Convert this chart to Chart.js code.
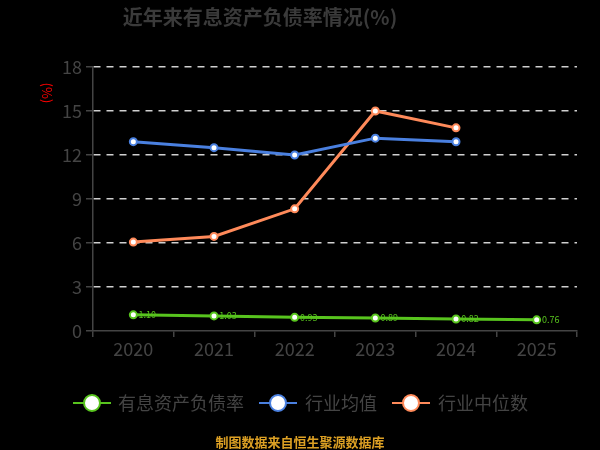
<!DOCTYPE html>
<html>
<head>
<meta charset="utf-8">
<script src="https://cdn.jsdelivr.net/npm/chart.js@4/dist/chart.umd.min.js"></script>
<style>
html,body{margin:0;padding:0;background:#000;}
#wrap{width:600px;height:450px;position:relative;}
</style>
</head>
<body>
<div id="wrap"><canvas id="c" width="600" height="450"></canvas></div>
<script>
const categories = ['2020','2021','2022','2023','2024','2025'];
const debtRatio = [1.10, 1.03, 0.93, 0.89, 0.82, 0.76];
const industryAvg = [12.91, 12.50, 12.00, 13.15, 12.90, null];
const industryMedian = [6.06, 6.45, 8.33, 15.00, 13.85, null];
const yTicks = [0, 3, 6, 9, 12, 15, 18];
const seriesNames = ['有息资产负债率', '行业均值', '行业中位数'];
const seriesColors = ['#58c41e', '#4a80e0', '#ff8a5a'];
const titleText = '近年来有息资产负债率情况(%)';
const unitText = '(%)';
const sourceText = '制图数据来自恒生聚源数据库';

const FONT = '"Noto Sans CJK SC", "Noto Sans", sans-serif';

const extras = {
  id: 'extras',
  beforeDatasetsDraw(chart) {
    const ctx = chart.ctx;
    const meta = chart.getDatasetMeta(0);
    ctx.save();
    ctx.font = '9px ' + FONT;
    ctx.fillStyle = seriesColors[0];
    ctx.textAlign = 'center';
    ctx.textBaseline = 'middle';
    meta.data.forEach((pt, i) => {
      ctx.fillText(debtRatio[i].toFixed(2), pt.x + 14, pt.y);
    });
    ctx.restore();
  },
  afterDraw(chart) {
    const ctx = chart.ctx;
    ctx.save();
    ctx.font = 'bold 20px ' + FONT;
    ctx.fillStyle = '#3a3a3a';
    ctx.textAlign = 'center';
    ctx.textBaseline = 'middle';
    ctx.fillText(titleText, 260, 17);
    ctx.save();
    ctx.translate(47, 93);
    ctx.rotate(Math.PI / 2);
    ctx.font = '13px ' + FONT;
    ctx.fillStyle = '#ff0000';
    ctx.fillText(unitText, 0, 0);
    ctx.restore();
    const items = [
      {x1: 73, x2: 111, cx: 92, tx: 118},
      {x1: 259, x2: 297, cx: 278, tx: 305},
      {x1: 392, x2: 430, cx: 411, tx: 438}
    ];
    const ly = 403;
    items.forEach((it, i) => {
      ctx.strokeStyle = seriesColors[i];
      ctx.lineWidth = 2;
      ctx.beginPath();
      ctx.moveTo(it.x1, ly);
      ctx.lineTo(it.x2, ly);
      ctx.stroke();
      ctx.beginPath();
      ctx.arc(it.cx, ly, 8, 0, Math.PI * 2);
      ctx.fillStyle = '#ffffff';
      ctx.fill();
      ctx.lineWidth = 2;
      ctx.stroke();
      ctx.font = '18px ' + FONT;
      ctx.fillStyle = '#444444';
      ctx.textAlign = 'left';
      ctx.fillText(seriesNames[i], it.tx, ly);
    });
    ctx.font = 'bold 13px ' + FONT;
    ctx.fillStyle = '#dca024';
    ctx.textAlign = 'center';
    ctx.fillText(sourceText, 300, 442);
    ctx.restore();
  }
};

function ds(label, data, color, width) {
  return {
    label, data,
    borderColor: color,
    backgroundColor: '#ffffff',
    borderWidth: width,
    pointRadius: 3.5,
    pointBorderWidth: 2,
    pointBorderColor: color,
    pointBackgroundColor: '#ffffff',
    tension: 0,
    spanGaps: false
  };
}

new Chart(document.getElementById('c'), {
  type: 'line',
  data: {
    labels: categories,
    datasets: [
      ds(seriesNames[0], debtRatio, seriesColors[0], 3),
      ds(seriesNames[1], industryAvg, seriesColors[1], 3),
      ds(seriesNames[2], industryMedian, seriesColors[2], 3)
    ]
  },
  options: {
    responsive: false,
    animation: false,
    layout: { padding: { top: 67, left: 10, right: 23, bottom: 79 } },
    plugins: { legend: { display: false }, title: { display: false }, tooltip: { enabled: false } },
    scales: {
      x: {
        offset: true,
        grid: { offset: true, drawOnChartArea: false, drawTicks: true, tickLength: 6, color: '#444444', lineWidth: 1.5 },
        border: { display: true, color: '#444444', width: 1.5 },
        ticks: { color: '#444444', font: { size: 18, family: FONT }, padding: 1 },
        afterFit(s) { s.height = 40; }
      },
      y: {
        min: 0, max: 18,
        afterBuildTicks(s) { s.ticks = yTicks.map(v => ({ value: v })); },
        grid: {
          color: (c) => c.tick && c.tick.value === 0 ? 'rgba(0,0,0,0)' : '#d0d0d0',
          tickColor: '#444444',
          lineWidth: 1.5,
          drawTicks: true,
          tickLength: 7
        },
        border: { display: true, color: '#444444', width: 1.5, dash: [7, 6] },
        ticks: { color: '#444444', font: { size: 18, family: FONT }, padding: 4 },
        afterFit(s) { s.width = 83; }
      }
    }
  },
  plugins: [extras]
});
</script>
</body>
</html>
